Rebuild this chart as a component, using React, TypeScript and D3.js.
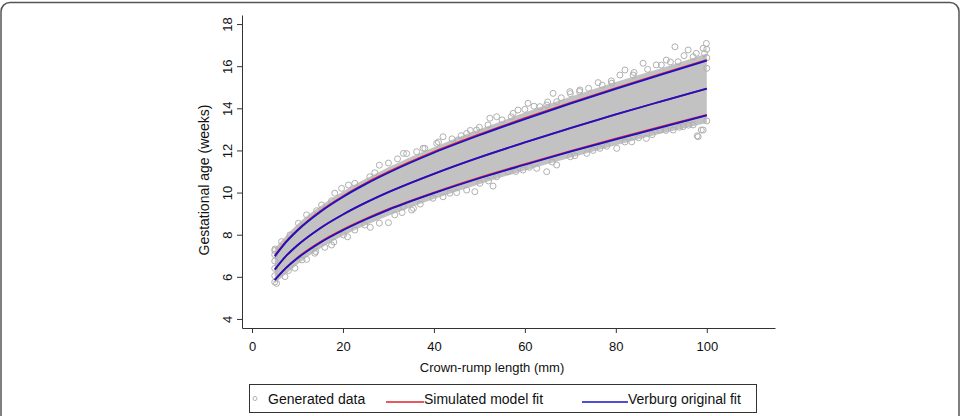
import React, { useEffect, useRef } from 'react';
import * as d3 from 'd3';

// crown-rump length (mm) sample points for the fitted curves
const crl = [5, 7.5, 10, 15, 20, 25, 30, 40, 50, 60, 70, 80, 90, 100];

// Verburg original fit (weeks): median and outer centiles
const verburgMid = [6.34, 6.99, 7.5, 8.31, 8.96, 9.52, 10.02, 10.89, 11.67, 12.38, 13.06, 13.71, 14.33, 14.94];
const verburgUpper = [6.97, 7.65, 8.2, 9.08, 9.79, 10.4, 10.94, 11.89, 12.72, 13.49, 14.22, 14.92, 15.6, 16.26];
const verburgLower = [5.84, 6.42, 6.88, 7.62, 8.21, 8.72, 9.18, 9.97, 10.68, 11.32, 11.94, 12.53, 13.1, 13.66];

// simulated model fit (weeks)
const simMid = [6.34, 6.99, 7.5, 8.31, 8.96, 9.52, 10.02, 10.89, 11.67, 12.38, 13.06, 13.71, 14.33, 14.94];
const simUpper = [7.0, 7.68, 8.23, 9.12, 9.83, 10.44, 10.98, 11.93, 12.76, 13.53, 14.26, 14.96, 15.64, 16.3];
const simLower = [5.86, 6.44, 6.91, 7.65, 8.24, 8.75, 9.21, 10.0, 10.71, 11.35, 11.97, 12.56, 13.13, 13.69];

// dense part of the generated data cloud
const cloudUpper = [7.35, 7.95, 8.5, 9.35, 10.05, 10.65, 11.2, 12.15, 13.0, 13.8, 14.55, 15.25, 15.9, 16.6];
const cloudLower = [5.7, 6.15, 6.6, 7.35, 7.95, 8.45, 8.9, 9.7, 10.4, 11.05, 11.65, 12.25, 12.8, 13.3];

// individual generated points visible at the edges of the cloud
const pointCrl = [
  5.0, 5.0, 5.0, 5.0, 5.0, 5.0, 5.05, 6.5, 8.35, 10.2, 12.0, 14.2, 15.3, 17.5, 18.2, 19.7, 21.2, 22.6, 25.9, 27.0,
  5.4, 7.25, 9.45, 12.0, 13.8, 17.5, 20.1, 22.6, 24.8, 30.0, 31.4, 35.1,
  33.3, 36.2, 37.6, 40.6, 42.0, 45.3, 47.2, 49.4, 51.9, 52.3, 53.8, 57.4, 58.5, 60.7, 63.3, 64.8, 67.0,
  33.3, 35.5, 39.8, 43.5, 47.2, 49.0, 50.1, 53.0, 53.8, 56.3, 59.6, 62.6, 64.8, 67.0,
  66.2, 69.9, 72.1, 76.1, 79.1, 80.9, 82.0, 83.8, 86.0, 88.9, 91.1, 93.0, 93.7, 95.9, 97.7, 99.9, 99.2,
  70.0, 73.6, 76.5, 80.2, 83.5, 86.7, 89.7, 92.6, 94.8, 97.0, 98.1, 99.2, 97.9, 98.8, 100, 100, 100,
  28, 30, 32, 34, 38, 41, 44, 46, 48, 50, 55, 57, 60, 62, 65, 68, 70, 72, 74, 77, 79, 84, 87, 90, 92, 95, 97, 99.5, 100,
  8, 11, 14, 16, 18, 21, 26, 28, 33, 37, 42, 45, 52, 58, 61, 66, 71, 75, 78, 82, 85, 88, 91, 94, 96,
];
const pointGa = [
  5.75, 6.05, 6.4, 6.75, 7.05, 7.25, 7.32, 7.67, 7.99, 8.54, 8.94, 9.14, 9.41, 9.61, 9.97, 10.2, 10.36, 10.44, 10.75, 10.94,
  5.69, 6.01, 6.41, 6.83, 7.12, 7.51, 7.99, 8.22, 8.46, 8.57, 8.94, 9.17,
  11.86, 11.94, 12.1, 12.34, 12.65, 12.5, 12.81, 12.97, 13.21, 13.53, 13.6, 13.76, 13.92, 14.24, 14.08, 14.16, 14.31,
  9.33, 9.25, 9.73, 9.97, 10.12, 10.04, 10.44, 10.31, 10.75, 10.99, 11.07, 11.15, 10.99, 11.31,
  14.71, 14.79, 14.87, 15.22, 15.19, 15.58, 15.82, 15.58, 16.14, 16.06, 16.29, 16.92, 16.21, 16.77, 16.61, 17.08, 16.85,
  11.7, 11.86, 12.1, 12.1, 12.41, 12.57, 12.97, 12.97, 13.13, 13.21, 12.65, 12.97, 12.69, 12.97, 13.4, 15.9, 16.4,
  11.3, 11.4, 11.6, 11.85, 12.1, 12.4, 12.55, 12.7, 12.95, 13.1, 13.45, 13.6, 13.95, 14.1, 14.3, 14.5, 14.7, 14.8, 14.95, 15.1, 15.3, 15.7, 15.85, 16.05, 16.2, 16.5, 16.45, 16.6, 16.8,
  6.3, 6.8, 7.2, 7.4, 7.65, 7.9, 8.35, 8.55, 9.05, 9.45, 9.8, 10.0, 10.55, 11.0, 11.2, 11.45, 11.75, 12.0, 12.2, 12.4, 12.6, 12.75, 12.95, 13.1, 13.2,
];

const xTicks = [0, 20, 40, 60, 80, 100];
const yTicks = [4, 6, 8, 10, 12, 14, 16, 18];

const legendItems = [
  { label: 'Generated data', kind: 'point', color: '#b0b0b0' },
  { label: 'Simulated model fit', kind: 'line', color: '#e0202a' },
  { label: 'Verburg original fit', kind: 'line', color: '#1a12c8' },
];

const FONT = '"Liberation Sans", Arial, Helvetica, sans-serif';

export default function App() {
  const svgRef = useRef<SVGSVGElement>(null);

  useEffect(() => {
    if (!svgRef.current) return;
    const svg = d3.select(svgRef.current).html('');

    // outer frame
    svg.append('rect')
      .attr('x', 1).attr('y', 2.5).attr('width', 958).attr('height', 440)
      .attr('rx', 9).attr('fill', 'none').attr('stroke', '#555').attr('stroke-width', 1.5);

    const x = d3.scaleLinear().domain([-2.2, 115]).range([242, 775]);
    const y = d3.scaleLinear().domain([3.57, 18.43]).range([328, 15]);

    // dense cloud
    const band = d3.area<number>()
      .x((_, i) => x(crl[i]))
      .y0((_, i) => y(cloudLower[i]))
      .y1((_, i) => y(cloudUpper[i]))
      .curve(d3.curveMonotoneX);
    svg.append('path').datum(crl).attr('d', band).attr('fill', '#c2c2c2');

    // scattered points
    svg.append('g').selectAll('circle').data(pointCrl).join('circle')
      .attr('cx', (d) => x(d))
      .attr('cy', (_, i) => y(pointGa[i]))
      .attr('r', 3)
      .attr('fill', 'none')
      .attr('stroke', '#b0b0b0')
      .attr('stroke-width', 1);

    const drawLine = (vals: number[], color: string) => {
      const line = d3.line<number>()
        .x((_, i) => x(crl[i]))
        .y((d) => y(d))
        .curve(d3.curveMonotoneX);
      svg.append('path').datum(vals).attr('d', line)
        .attr('fill', 'none').attr('stroke', color).attr('stroke-width', 1.8);
    };
    [simUpper, simMid, simLower].forEach((v) => drawLine(v, '#e0202a'));
    [verburgUpper, verburgMid, verburgLower].forEach((v) => drawLine(v, '#1a12c8'));

    // axes
    const gx = svg.append('g').attr('transform', 'translate(0,328)')
      .call(d3.axisBottom(x).tickValues(xTicks).tickSize(5).tickSizeOuter(0).tickPadding(9));
    const gy = svg.append('g').attr('transform', 'translate(242,0)')
      .call(d3.axisLeft(y).tickValues(yTicks).tickSize(5).tickSizeOuter(0));

    [gx, gy].forEach((g) => {
      g.select('.domain').attr('stroke', '#333').attr('stroke-width', 1);
      g.selectAll('.tick line').attr('stroke', '#333');
      g.selectAll('.tick text').attr('fill', '#111').attr('font-size', 13).attr('font-family', FONT);
    });
    gy.selectAll('.tick text')
      .attr('transform', 'rotate(-90)')
      .attr('x', 0).attr('y', -10).attr('dy', 0)
      .attr('text-anchor', 'middle');

    svg.append('text')
      .attr('x', 492).attr('y', 372)
      .attr('text-anchor', 'middle')
      .attr('font-family', FONT).attr('font-size', 13).attr('fill', '#111')
      .text('Crown-rump length (mm)');
    svg.append('text')
      .attr('transform', 'translate(209,180) rotate(-90)')
      .attr('text-anchor', 'middle')
      .attr('font-family', FONT).attr('font-size', 14).attr('fill', '#111')
      .text('Gestational age (weeks)');

    // legend
    const lg = svg.append('g');
    lg.append('rect')
      .attr('x', 249.5).attr('y', 384.5).attr('width', 507).attr('height', 28)
      .attr('fill', '#fff').attr('stroke', '#333').attr('stroke-width', 1);
    const legendX = [
      { sym: 255, text: 268 },
      { sym: 386, text: 424 },
      { sym: 582, text: 628 },
    ];
    legendItems.forEach((item, i) => {
      const pos = legendX[i];
      if (item.kind === 'point') {
        lg.append('circle').attr('cx', pos.sym).attr('cy', 398.5).attr('r', 2)
          .attr('fill', 'none').attr('stroke', item.color).attr('stroke-width', 1);
      } else {
        lg.append('line')
          .attr('x1', pos.sym).attr('x2', pos.text).attr('y1', 402).attr('y2', 402)
          .attr('stroke', item.color).attr('stroke-width', 1.5);
      }
      lg.append('text')
        .attr('x', pos.text).attr('y', 403.5)
        .attr('font-family', FONT).attr('font-size', 14).attr('fill', '#111')
        .text(item.label);
    });
  }, []);

  return (
    <svg
      ref={svgRef}
      width={961}
      height={416}
      style={{ position: 'absolute', left: 0, top: 0, background: '#fff', display: 'block' }}
    />
  );
}
